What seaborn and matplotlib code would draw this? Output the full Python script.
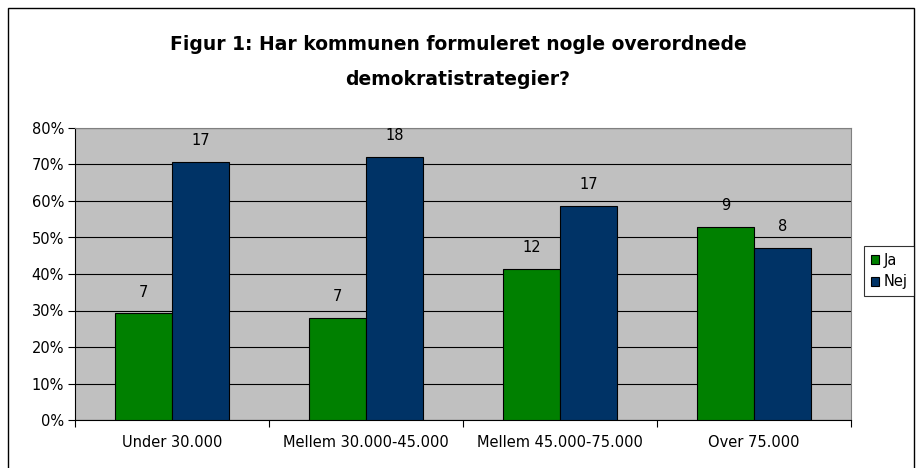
import matplotlib
matplotlib.use("Agg")
import matplotlib.pyplot as plt
import matplotlib.patches as mpatches
import seaborn as sns
import pandas as pd

categories = ["Under 30.000", "Mellem 30.000-45.000", "Mellem 45.000-75.000", "Over 75.000"]
series = ["Ja", "Nej"]
ja_pct = [29.2, 28.0, 41.4, 52.9]
nej_pct = [70.8, 72.0, 58.6, 47.1]
ja_counts = [7, 7, 12, 9]
nej_counts = [17, 18, 17, 8]
yticks = [0, 10, 20, 30, 40, 50, 60, 70, 80]
ytick_labels = ["0%", "10%", "20%", "30%", "40%", "50%", "60%", "70%", "80%"]
title = "Figur 1: Har kommunen formuleret nogle overordnede\ndemokratistrategier?"

df = pd.DataFrame({
    "cat": categories * 2,
    "series": ["Ja"] * 4 + ["Nej"] * 4,
    "pct": ja_pct + nej_pct,
    "count": ja_counts + nej_counts,
})

sns.set_style("white")
plt.rcParams["font.family"] = ["DejaVu Sans"]
plt.rcParams["text.color"] = "black"
plt.rcParams["xtick.color"] = "black"
plt.rcParams["ytick.color"] = "black"
plt.rcParams["xtick.labelcolor"] = "black"
plt.rcParams["ytick.labelcolor"] = "black"
FS = 10.5

fig = plt.figure(figsize=(9.16, 4.68), dpi=100)
ax = fig.add_axes([75 / 916, 1 - 420 / 468, (851 - 75) / 916, (420 - 128) / 468])
ax.set_facecolor("#C0C0C0")

palette = {"Ja": "#008000", "Nej": "#003366"}
sns.barplot(data=df, x="cat", y="pct", hue="series", palette=palette,
            width=0.59, edgecolor="black", linewidth=0.8, saturation=1,
            ax=ax, zorder=3)

ax.set_ylim(0, 80)
ax.set_xlim(-0.5, 3.5)
ax.set_yticks(yticks)
ax.set_yticklabels(ytick_labels, fontsize=FS, color="black")
ax.yaxis.grid(True, color="black", linewidth=0.8, zorder=0)
ax.set_axisbelow(True)
ax.tick_params(axis="y", length=5, width=0.8, color="black", direction="out", left=True, pad=3)

ax.set_xticks(range(4))
ax.set_xticklabels(categories, fontsize=FS, color="black")
ax.tick_params(axis="x", which="major", length=0, pad=11)
ax.set_xticks([-0.5, 0.5, 1.5, 2.5, 3.5], minor=True)
ax.tick_params(axis="x", which="minor", length=5, width=0.8, color="black", direction="out", bottom=True)
ax.set_xlabel("")
ax.set_ylabel("")

for s in ["top", "right"]:
    ax.spines[s].set_color("#808080")
    ax.spines[s].set_linewidth(0.8)
for s in ["left", "bottom"]:
    ax.spines[s].set_color("black")
    ax.spines[s].set_linewidth(0.8)

for container, counts in zip(ax.containers, [ja_counts, nej_counts]):
    ax.bar_label(container, labels=[str(c) for c in counts], padding=10, fontsize=FS, color="black")

ax.get_legend().remove()
handles = [mpatches.Patch(facecolor=palette[s], edgecolor="black", linewidth=0.8, label=s) for s in series]
leg = fig.legend(handles=handles, loc="center left", bbox_to_anchor=(864 / 916, 1 - 271 / 468),
                 frameon=True, fancybox=False, fontsize=FS, handlelength=0.6, handleheight=0.6,
                 handletextpad=0.3, borderpad=0.45, labelspacing=0.45, borderaxespad=0)
leg.get_frame().set_edgecolor("black")
leg.get_frame().set_linewidth(0.8)
for t in leg.get_texts():
    t.set_color("black")

fig.text(0.5, 1 - 62 / 468, title, ha="center", va="center", fontsize=13.5, fontweight="bold",
         linespacing=2.1, color="black")

fig.patches.append(mpatches.Rectangle((8 / 916, -0.05), (914 - 8) / 916, 1 - 8 / 468 + 0.05,
                                      transform=fig.transFigure, fill=False,
                                      edgecolor="black", linewidth=1.0))

fig.savefig("out.png", dpi=100, facecolor="white")
